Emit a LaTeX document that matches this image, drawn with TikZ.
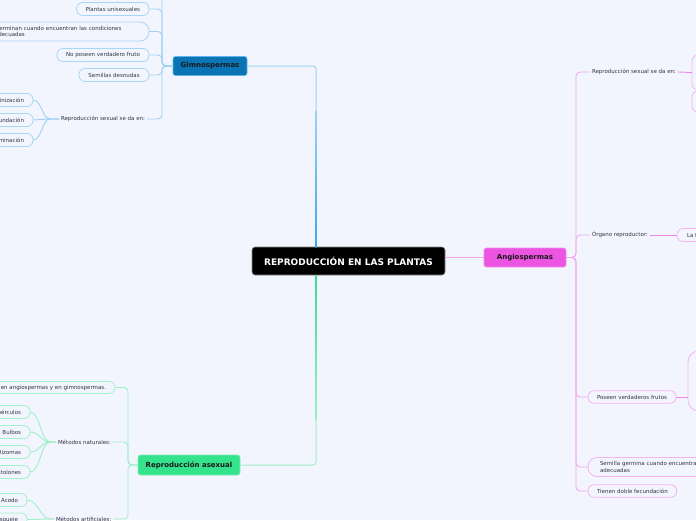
\documentclass[tikz,border=0pt]{standalone}
\usepackage{fontspec}
\setmainfont{DejaVu Sans}
\definecolor{bgc}{HTML}{F3F5FE}
\definecolor{txt}{HTML}{333344}
\definecolor{gblue}{HTML}{0B74B5}
\definecolor{gbor}{HTML}{5DB5EA}
\definecolor{gpl}{HTML}{A9D6F5}
\definecolor{gln}{HTML}{9FD1F3}
\definecolor{gdeep}{HTML}{3BA7E9}
\definecolor{amag}{HTML}{EC54E2}
\definecolor{abor}{HTML}{F08CEA}
\definecolor{apl}{HTML}{F3B3EF}
\definecolor{aln}{HTML}{F2A8EE}
\definecolor{alnb}{HTML}{EE88E8}
\definecolor{rgreen}{HTML}{35E38C}
\definecolor{rbor}{HTML}{7EEDB6}
\definecolor{rpl}{HTML}{A3F0CC}
\definecolor{rln}{HTML}{9CEFC6}
\definecolor{rdeep}{HTML}{3CDD8B}
\begin{document}
\begin{tikzpicture}[x=1pt,y=-1pt,
  every node/.style={inner sep=0pt, outer sep=0pt},
  small/.style={font=\fontsize{5.5}{6.8}\selectfont, text=txt},
  pill/.style={small, draw, fill=bgc, rounded corners=6pt, minimum height=13pt, line width=0.8pt, inner xsep=9pt},
  gpill/.style={pill, draw=gpl},
  apill/.style={pill, draw=apl},
  rpill/.style={pill, draw=rpl},
  lbl/.style={small, inner xsep=2pt},
  gconn/.style={draw=gln, line width=0.9pt, rounded corners=4pt},
  aconn/.style={draw=aln, line width=0.9pt, rounded corners=4pt},
  aconnb/.style={draw=alnb, line width=0.9pt},
  rconn/.style={draw=rln, line width=0.9pt, rounded corners=4pt},
  rootbox/.style={fill=black, draw=black!45, line width=0.6pt, rounded corners=3pt, text=white, font=\bfseries\fontsize{9}{10}\selectfont, minimum width=193pt, minimum height=28pt},
  mainbox/.style={rounded corners=2.5pt, line width=0.7pt, text=black!90, font=\bfseries\fontsize{7}{8}\selectfont, minimum height=19pt}
]
\useasboundingbox (0,0) rectangle (696,520);
\clip (0,0) rectangle (696,520);
\fill[bgc] (0,0) rectangle (696,520);

% ---------- main nodes
\node[rootbox] (root) at (348.5,261) {REPRODUCCIÓN EN LAS PLANTAS};
\node[mainbox, fill=gblue, draw=gbor, minimum width=74pt] (gim) at (210,66) {Gimnospermas};
\node[mainbox, fill=amag, draw=abor, minimum width=82pt] (ang) at (525,257.5) {Angiospermas};
\node[mainbox, fill=rgreen, draw=rbor, minimum width=102pt, minimum height=20pt] (ras) at (189,465) {Reproducción asexual};

% ---------- main connectors
\draw[draw=gln, line width=1pt, rounded corners=3pt] (gim.east) -- (316,66) -- ([xshift=-32.5pt]root.north);
\shade[top color=gln, bottom color=gdeep] (315.5,110) rectangle (316.5,247);
\draw[draw=rln, line width=1pt, rounded corners=3pt] (ras.east) -- (316,465) -- ([xshift=-32.5pt]root.south);
\shade[top color=rdeep, bottom color=rln] (315.5,275) rectangle (316.5,420);
\draw[draw=aln, line width=0.9pt] (root.east |- ang.west) -- (ang.west);

% ---------- Gimnospermas branch
\coordinate (gtop) at (149,-12);
\node[gpill, anchor=east, minimum width=72pt] (g1) at (149,9) {Plantas unisexuales};
\node[gpill, anchor=east, minimum height=19pt, minimum width=163pt, rounded corners=9pt, align=left, text width=145pt] (g2) at (149,31.5) {Germinan cuando encuentran las condiciones\\adecuadas};
\node[gpill, anchor=east, minimum width=92pt] (g3) at (149,55) {No poseen verdadero fruto};
\node[gpill, anchor=east, minimum width=70pt] (g4) at (149,75) {Semillas desnudas};
\node[lbl, anchor=west] (g5) at (59,119) {Reproducción sexual se da en:};
\node[gpill, anchor=east] (gp1) at (33,100) {Polinización};
\node[gpill, anchor=east] (gp2) at (33,120) {Fecundación};
\node[gpill, anchor=east] (gp3) at (33,140) {Germinación};

\draw[gconn] (gim.west) -- (162,66) |- (gtop);
\draw[gconn] (gim.west) -- (162,66) |- (g1.east);
\draw[gconn] (gim.west) -- (162,66) |- (g2.east);
\draw[gconn] (gim.west) -- (162,66) |- (g3.east);
\draw[gconn] (gim.west) -- (162,66) |- (g4.east);
\draw[gconn] (gim.west) -- (162,66) |- (g5.east);
\draw[draw=gln, line width=0.9pt] (g5.west) -- (50,119) .. controls (42,119) and (42,100) .. (gp1.east);
\draw[draw=gln, line width=0.9pt] (g5.west) -- (50,119) .. controls (42,119) and (42,120) .. (gp2.east);
\draw[draw=gln, line width=0.9pt] (g5.west) -- (50,119) .. controls (42,119) and (42,140) .. (gp3.east);

% ---------- Reproduccion asexual branch
\node[rpill, anchor=east, minimum height=12pt] (r1) at (115,387.5) {Se presenta en angiospermas y en gimnospermas.};
\node[lbl, anchor=west] (r2) at (56,442) {Métodos naturales:};
\node[lbl, anchor=west] (r3) at (54,519) {Métodos artificiales:};
\node[rpill, anchor=east] (n1) at (30,412) {Tubérculos};
\node[rpill, anchor=east] (n2) at (30,432) {Bulbos};
\node[rpill, anchor=east] (n3) at (30,452) {Rizomas};
\node[rpill, anchor=east] (n4) at (30,472) {Estolones};
\node[rpill, anchor=east] (m1) at (27,500) {Acodo};
\node[rpill, anchor=east] (m2) at (27,519.5) {Esqueje};

\draw[rconn] (ras.west) -- (128,465) |- (r1.east);
\draw[rconn] (ras.west) -- (128,465) |- (r2.east);
\draw[rconn] (ras.west) -- (128,465) |- (r3.east);
\foreach \n/\y in {n1/412,n2/432,n3/452,n4/472}
  \draw[draw=rln, line width=0.9pt] (r2.west) -- (50,442) .. controls (41,442) and (40,\y) .. (\n.east);
\foreach \n/\y in {m1/500,m2/519.5}
  \draw[draw=rln, line width=0.9pt] (r3.west) -- (50,519) .. controls (41,519) and (38,\y) .. (\n.east);

% ---------- Angiospermas branch
\node[lbl, anchor=west] (a1) at (590,72) {Reproducción sexual se da en:};
\node[lbl, anchor=west] (a2) at (590,235) {Órgano reproductor:};
\node[apill, anchor=west, minimum width=88pt, minimum height=12.5pt] (a3) at (588,397) {Poseen verdaderos frutos};
\node[apill, anchor=west, minimum height=19pt, rounded corners=9pt, align=left, text width=170pt, inner xsep=12pt] (a4) at (588,467) {Semilla germina cuando encuentra las condiciones\\adecuadas};
\node[apill, anchor=west, minimum width=88pt, minimum height=12.5pt] (a5) at (588,491) {Tienen doble fecundación};
\node[apill, anchor=west, inner xsep=10pt] (flor) at (677,235) {La flor};
\node[apill, anchor=west, minimum width=60pt, minimum height=35pt, rounded corners=6pt] (aA) at (692,72.5) {};
\node[apill, anchor=west, minimum width=60pt, minimum height=21pt, rounded corners=6pt] (aB) at (692,101.5) {};
\node[apill, anchor=west, minimum width=60pt, minimum height=60pt, rounded corners=11pt] (aC) at (688,381) {};

\draw[aconn] (ang.east) -- (576,257.5) |- (a1.west);
\draw[aconn] (ang.east) -- (576,257.5) |- (a2.west);
\draw[aconn] (ang.east) -- (576,257.5) |- (a3.west);
\draw[aconn] (ang.east) -- (576,257.5) |- (a4.west);
\draw[aconn] (ang.east) -- (576,257.5) |- (a5.west);
\draw[aconnb] (a1.east) -- (aA.west);
\draw[aconnb] (a2.east) -- (flor.west);
\draw[aconnb] (a3.east) -- (a3.east -| aC.west);
\end{tikzpicture}
\end{document}
